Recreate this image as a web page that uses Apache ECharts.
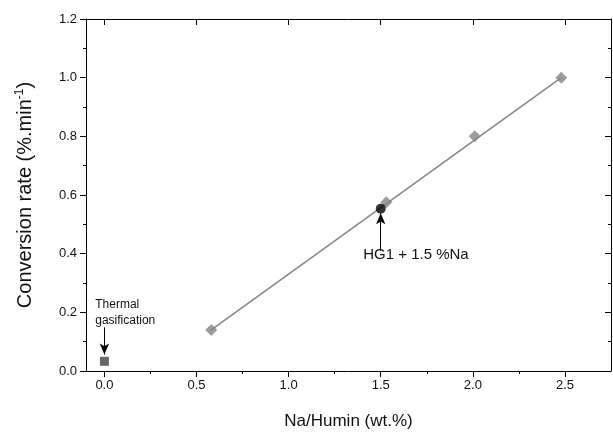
<!DOCTYPE html>
<html>
<head>
<meta charset="utf-8">
<script src="https://cdn.jsdelivr.net/npm/echarts@6/dist/echarts.min.js"></script>
<style>
  html, body { margin: 0; padding: 0; background: #fff; }
  #chart { width: 613px; height: 432px; }
</style>
</head>
<body>
<div id="chart"></div>
<script>
// Na-loaded humin samples: Na content vs. conversion rate
const naContent = [0.58, 1.53, 2.01, 2.48];
const conversionRate = [0.14, 0.575, 0.80, 1.00];

// Linear trend through the Na-loaded samples (end points)
const trendX = [0.58, 2.48];
const trendY = [0.14, 1.00];

// Thermal gasification reference (no Na)
const thermalX = [0];
const thermalY = [0.033];

// HG1 + 1.5 %Na sample
const hg1X = [1.5];
const hg1Y = [0.553];

// Axis ticks
const xMajorTicks = [0, 0.5, 1.0, 1.5, 2.0, 2.5];
const xMinorTicks = [0.25, 0.75, 1.25, 1.75, 2.25];

const FONT = 'Liberation Sans, Arial, sans-serif';
const AXIS_COLOR = '#000';
const TEXT_COLOR = '#111';

function pairs(xs, ys) { return xs.map((x, i) => [x, ys[i]]); }

const chart = echarts.init(document.getElementById('chart'), null, { renderer: 'canvas' });

const xBase = {
  type: 'value', min: -0.1, max: 2.75, gridIndex: 0,
  splitLine: { show: false },
  axisLine: { show: false, lineStyle: { color: AXIS_COLOR, width: 1 } }
};
const yBase = {
  type: 'value', min: 0, max: 1.2, interval: 0.2, gridIndex: 0,
  splitLine: { show: false },
  axisLine: { show: true, onZero: false, lineStyle: { color: AXIS_COLOR, width: 1 } }
};

const option = {
  animation: false,
  backgroundColor: '#fff',
  grid: { left: 86, right: 2, top: 19, bottom: 61, containLabel: false, outerBoundsMode: 'none' },
  xAxis: [
    Object.assign({}, xBase, {
      position: 'bottom',
      axisLine: { show: true, onZero: false, lineStyle: { color: AXIS_COLOR, width: 1 } },
      axisTick: { show: true, length: 6, customValues: xMajorTicks, lineStyle: { color: AXIS_COLOR, width: 1 } },
      axisLabel: { show: true, customValues: xMajorTicks, margin: 8, color: TEXT_COLOR, fontSize: 13, fontFamily: FONT,
        formatter: v => v.toFixed(1) },
      name: 'Na/Humin (wt.%)', nameLocation: 'middle', nameGap: 42,
      nameTextStyle: { color: TEXT_COLOR, fontSize: 17, fontFamily: FONT }
    }),
    Object.assign({}, xBase, {
      position: 'bottom',
      axisTick: { show: true, length: 3, customValues: xMinorTicks, lineStyle: { color: AXIS_COLOR, width: 1 } },
      axisLabel: { show: false }
    }),
    Object.assign({}, xBase, {
      position: 'top',
      axisLine: { show: true, onZero: false, lineStyle: { color: AXIS_COLOR, width: 1 } },
      axisTick: { show: true, inside: true, length: 6, customValues: xMajorTicks, lineStyle: { color: AXIS_COLOR, width: 1 } },
      axisLabel: { show: false }
    }),
    Object.assign({}, xBase, {
      position: 'top',
      axisTick: { show: true, inside: true, length: 3, customValues: xMinorTicks, lineStyle: { color: AXIS_COLOR, width: 1 } },
      axisLabel: { show: false }
    })
  ],
  yAxis: [
    Object.assign({}, yBase, {
      position: 'left',
      axisTick: { show: true, length: 6, lineStyle: { color: AXIS_COLOR, width: 1 } },
      minorTick: { show: true, splitNumber: 2, length: 3, lineStyle: { color: AXIS_COLOR, width: 1 } },
      axisLabel: { show: true, margin: 9, color: TEXT_COLOR, fontSize: 13, fontFamily: FONT,
        formatter: v => v.toFixed(1) },
      name: '{n|Conversion rate (%.min}{s|-1}{n|)}', nameLocation: 'middle', nameGap: 50,
      nameTextStyle: {
        color: TEXT_COLOR, fontFamily: FONT, fontSize: 20,
        rich: {
          n: { fontSize: 20, fontFamily: FONT, color: TEXT_COLOR, lineHeight: 22 },
          s: { fontSize: 12, fontFamily: FONT, color: TEXT_COLOR, lineHeight: 22, verticalAlign: 'top' }
        }
      }
    }),
    Object.assign({}, yBase, {
      position: 'right',
      axisTick: { show: true, inside: true, length: 6, lineStyle: { color: AXIS_COLOR, width: 1 } },
      minorTick: { show: true, splitNumber: 2, length: 3, lineStyle: { color: AXIS_COLOR, width: 1 } },
      axisLabel: { show: false }
    })
  ],
  series: [
    {
      name: 'Trend', type: 'line', xAxisIndex: 0, yAxisIndex: 0,
      data: pairs(trendX, trendY), symbol: 'none',
      lineStyle: { color: '#878787', width: 1.6 }, z: 2
    },
    {
      name: 'Na/Humin', type: 'scatter', xAxisIndex: 0, yAxisIndex: 0,
      data: pairs(naContent, conversionRate), symbol: 'diamond', symbolSize: [12, 12],
      itemStyle: { color: '#858585' }, z: 3
    },
    {
      name: 'Thermal gasification', type: 'scatter', xAxisIndex: 0, yAxisIndex: 0,
      data: pairs(thermalX, thermalY), symbol: 'rect', symbolSize: 9,
      itemStyle: { color: '#404040' }, z: 3,
      markLine: {
        silent: true, symbol: ['none', 'arrow'], symbolSize: [7, 11],
        lineStyle: { color: '#000', width: 1, type: 'solid' },
        label: { show: false },
        data: [[{ coord: [0, 0.149] }, { coord: [0, 0.056] }]]
      },
      markPoint: {
        silent: true, symbol: 'circle', symbolSize: 0,
        label: {
          show: true, position: 'right', distance: 0, align: 'left', verticalAlign: 'middle',
          color: TEXT_COLOR, fontSize: 12, fontFamily: FONT, lineHeight: 16,
          formatter: 'Thermal\ngasification'
        },
        data: [{ coord: [-0.05, 0.2] }]
      }
    },
    {
      name: 'HG1 + 1.5 %Na', type: 'scatter', xAxisIndex: 0, yAxisIndex: 0,
      data: pairs(hg1X, hg1Y), symbol: 'circle', symbolSize: 10,
      itemStyle: { color: '#000' }, z: 4,
      markLine: {
        silent: true, symbol: ['none', 'arrow'], symbolSize: [7, 11],
        lineStyle: { color: '#000', width: 1, type: 'solid' },
        label: { show: false },
        data: [[{ coord: [1.5, 0.41] }, { coord: [1.5, 0.538] }]]
      },
      markPoint: {
        silent: true, symbol: 'circle', symbolSize: 0,
        label: {
          show: true, position: 'right', distance: 0, align: 'left', verticalAlign: 'middle',
          color: TEXT_COLOR, fontSize: 15, fontFamily: FONT,
          formatter: 'HG1 + 1.5 %Na'
        },
        data: [{ coord: [1.405, 0.395] }]
      }
    }
  ]
};

chart.setOption(option);
</script>
</body>
</html>
